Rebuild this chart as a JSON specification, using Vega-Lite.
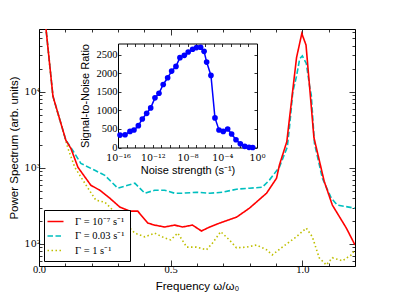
{
  "$schema": "https://vega.github.io/schema/vega-lite/v6.json",
  "width": 316,
  "height": 237,
  "autosize": {"type": "none"},
  "padding": {"left": 39, "top": 29, "right": 40, "bottom": 30},
  "background": "white",
  "config": {
    "view": {"stroke": null},
    "axis": {
      "grid": false,
      "zindex": 1,
      "domainColor": "black",
      "domainWidth": 1,
      "tickColor": "black",
      "tickWidth": 0.8,
      "labelColor": "black",
      "titleColor": "black",
      "labelFont": "Liberation Serif",
      "labelFontSize": 10.5,
      "titleFont": "Liberation Sans",
      "titleFontSize": 11.5,
      "titleFontWeight": "normal",
      "labelOverlap": false,
      "labelFlush": false
    }
  },
  "datasets": {
    "spectrum": [
      {"freq": 0.018, "power": 126000, "gamma": "Γ = 1 s⁻¹"},
      {"freq": 0.027, "power": 64600, "gamma": "Γ = 1 s⁻¹"},
      {"freq": 0.053, "power": 8700, "gamma": "Γ = 1 s⁻¹"},
      {"freq": 0.102, "power": 2250, "gamma": "Γ = 1 s⁻¹"},
      {"freq": 0.11, "power": 1800, "gamma": "Γ = 1 s⁻¹"},
      {"freq": 0.136, "power": 1015, "gamma": "Γ = 1 s⁻¹"},
      {"freq": 0.186, "power": 540, "gamma": "Γ = 1 s⁻¹"},
      {"freq": 0.216, "power": 376, "gamma": "Γ = 1 s⁻¹"},
      {"freq": 0.25, "power": 354, "gamma": "Γ = 1 s⁻¹"},
      {"freq": 0.288, "power": 262, "gamma": "Γ = 1 s⁻¹"},
      {"freq": 0.326, "power": 188, "gamma": "Γ = 1 s⁻¹"},
      {"freq": 0.364, "power": 139, "gamma": "Γ = 1 s⁻¹"},
      {"freq": 0.402, "power": 124, "gamma": "Γ = 1 s⁻¹"},
      {"freq": 0.439, "power": 139, "gamma": "Γ = 1 s⁻¹"},
      {"freq": 0.477, "power": 120, "gamma": "Γ = 1 s⁻¹"},
      {"freq": 0.5, "power": 113, "gamma": "Γ = 1 s⁻¹"},
      {"freq": 0.527, "power": 139, "gamma": "Γ = 1 s⁻¹"},
      {"freq": 0.561, "power": 91, "gamma": "Γ = 1 s⁻¹"},
      {"freq": 0.598, "power": 91, "gamma": "Γ = 1 s⁻¹"},
      {"freq": 0.636, "power": 84, "gamma": "Γ = 1 s⁻¹"},
      {"freq": 0.659, "power": 103, "gamma": "Γ = 1 s⁻¹"},
      {"freq": 0.69, "power": 145, "gamma": "Γ = 1 s⁻¹"},
      {"freq": 0.723, "power": 113, "gamma": "Γ = 1 s⁻¹"},
      {"freq": 0.75, "power": 89, "gamma": "Γ = 1 s⁻¹"},
      {"freq": 0.788, "power": 91, "gamma": "Γ = 1 s⁻¹"},
      {"freq": 0.826, "power": 97, "gamma": "Γ = 1 s⁻¹"},
      {"freq": 0.864, "power": 84, "gamma": "Γ = 1 s⁻¹"},
      {"freq": 0.886, "power": 72, "gamma": "Γ = 1 s⁻¹"},
      {"freq": 0.924, "power": 91, "gamma": "Γ = 1 s⁻¹"},
      {"freq": 0.977, "power": 124, "gamma": "Γ = 1 s⁻¹"},
      {"freq": 1.015, "power": 162, "gamma": "Γ = 1 s⁻¹"},
      {"freq": 1.038, "power": 124, "gamma": "Γ = 1 s⁻¹"},
      {"freq": 1.064, "power": 66, "gamma": "Γ = 1 s⁻¹"},
      {"freq": 1.091, "power": 53, "gamma": "Γ = 1 s⁻¹"},
      {"freq": 1.114, "power": 66, "gamma": "Γ = 1 s⁻¹"},
      {"freq": 1.152, "power": 60, "gamma": "Γ = 1 s⁻¹"},
      {"freq": 1.186, "power": 72, "gamma": "Γ = 1 s⁻¹"},
      {"freq": 1.2, "power": 84, "gamma": "Γ = 1 s⁻¹"},

      {"freq": 0.018, "power": 126000, "gamma": "Γ = 0.03 s⁻¹"},
      {"freq": 0.027, "power": 64600, "gamma": "Γ = 0.03 s⁻¹"},
      {"freq": 0.053, "power": 8700, "gamma": "Γ = 0.03 s⁻¹"},
      {"freq": 0.102, "power": 2300, "gamma": "Γ = 0.03 s⁻¹"},
      {"freq": 0.121, "power": 1850, "gamma": "Γ = 0.03 s⁻¹"},
      {"freq": 0.159, "power": 1145, "gamma": "Γ = 0.03 s⁻¹"},
      {"freq": 0.212, "power": 927, "gamma": "Γ = 0.03 s⁻¹"},
      {"freq": 0.25, "power": 797, "gamma": "Γ = 0.03 s⁻¹"},
      {"freq": 0.299, "power": 540, "gamma": "Γ = 0.03 s⁻¹"},
      {"freq": 0.337, "power": 590, "gamma": "Γ = 0.03 s⁻¹"},
      {"freq": 0.364, "power": 627, "gamma": "Γ = 0.03 s⁻¹"},
      {"freq": 0.402, "power": 464, "gamma": "Γ = 0.03 s⁻¹"},
      {"freq": 0.439, "power": 508, "gamma": "Γ = 0.03 s⁻¹"},
      {"freq": 0.477, "power": 508, "gamma": "Γ = 0.03 s⁻¹"},
      {"freq": 0.515, "power": 464, "gamma": "Γ = 0.03 s⁻¹"},
      {"freq": 0.545, "power": 464, "gamma": "Γ = 0.03 s⁻¹"},
      {"freq": 0.598, "power": 478, "gamma": "Γ = 0.03 s⁻¹"},
      {"freq": 0.648, "power": 464, "gamma": "Γ = 0.03 s⁻¹"},
      {"freq": 0.697, "power": 478, "gamma": "Γ = 0.03 s⁻¹"},
      {"freq": 0.75, "power": 524, "gamma": "Γ = 0.03 s⁻¹"},
      {"freq": 0.799, "power": 540, "gamma": "Γ = 0.03 s⁻¹"},
      {"freq": 0.848, "power": 556, "gamma": "Γ = 0.03 s⁻¹"},
      {"freq": 0.875, "power": 690, "gamma": "Γ = 0.03 s⁻¹"},
      {"freq": 0.913, "power": 1025, "gamma": "Γ = 0.03 s⁻¹"},
      {"freq": 0.943, "power": 1880, "gamma": "Γ = 0.03 s⁻¹"},
      {"freq": 0.951, "power": 3370, "gamma": "Γ = 0.03 s⁻¹"},
      {"freq": 0.964, "power": 10000, "gamma": "Γ = 0.03 s⁻¹"},
      {"freq": 0.978, "power": 16000, "gamma": "Γ = 0.03 s⁻¹"},
      {"freq": 0.99, "power": 27000, "gamma": "Γ = 0.03 s⁻¹"},
      {"freq": 1.0, "power": 29500, "gamma": "Γ = 0.03 s⁻¹"},
      {"freq": 1.015, "power": 23500, "gamma": "Γ = 0.03 s⁻¹"},
      {"freq": 1.028, "power": 11600, "gamma": "Γ = 0.03 s⁻¹"},
      {"freq": 1.034, "power": 9000, "gamma": "Γ = 0.03 s⁻¹"},
      {"freq": 1.046, "power": 2100, "gamma": "Γ = 0.03 s⁻¹"},
      {"freq": 1.053, "power": 1650, "gamma": "Γ = 0.03 s⁻¹"},
      {"freq": 1.076, "power": 729, "gamma": "Γ = 0.03 s⁻¹"},
      {"freq": 1.11, "power": 399, "gamma": "Γ = 0.03 s⁻¹"},
      {"freq": 1.133, "power": 324, "gamma": "Γ = 0.03 s⁻¹"},
      {"freq": 1.2, "power": 295, "gamma": "Γ = 0.03 s⁻¹"},

      {"freq": 0.018, "power": 126000, "gamma": "Γ = 10⁻⁷ s⁻¹"},
      {"freq": 0.027, "power": 64600, "gamma": "Γ = 10⁻⁷ s⁻¹"},
      {"freq": 0.053, "power": 8700, "gamma": "Γ = 10⁻⁷ s⁻¹"},
      {"freq": 0.102, "power": 2300, "gamma": "Γ = 10⁻⁷ s⁻¹"},
      {"freq": 0.121, "power": 1800, "gamma": "Γ = 10⁻⁷ s⁻¹"},
      {"freq": 0.148, "power": 1015, "gamma": "Γ = 10⁻⁷ s⁻¹"},
      {"freq": 0.197, "power": 590, "gamma": "Γ = 10⁻⁷ s⁻¹"},
      {"freq": 0.231, "power": 508, "gamma": "Γ = 10⁻⁷ s⁻¹"},
      {"freq": 0.269, "power": 399, "gamma": "Γ = 10⁻⁷ s⁻¹"},
      {"freq": 0.307, "power": 305, "gamma": "Γ = 10⁻⁷ s⁻¹"},
      {"freq": 0.345, "power": 270, "gamma": "Γ = 10⁻⁷ s⁻¹"},
      {"freq": 0.375, "power": 270, "gamma": "Γ = 10⁻⁷ s⁻¹"},
      {"freq": 0.413, "power": 188, "gamma": "Γ = 10⁻⁷ s⁻¹"},
      {"freq": 0.439, "power": 177, "gamma": "Γ = 10⁻⁷ s⁻¹"},
      {"freq": 0.477, "power": 167, "gamma": "Γ = 10⁻⁷ s⁻¹"},
      {"freq": 0.515, "power": 177, "gamma": "Γ = 10⁻⁷ s⁻¹"},
      {"freq": 0.545, "power": 167, "gamma": "Γ = 10⁻⁷ s⁻¹"},
      {"freq": 0.583, "power": 177, "gamma": "Γ = 10⁻⁷ s⁻¹"},
      {"freq": 0.617, "power": 148, "gamma": "Γ = 10⁻⁷ s⁻¹"},
      {"freq": 0.648, "power": 167, "gamma": "Γ = 10⁻⁷ s⁻¹"},
      {"freq": 0.686, "power": 188, "gamma": "Γ = 10⁻⁷ s⁻¹"},
      {"freq": 0.75, "power": 225, "gamma": "Γ = 10⁻⁷ s⁻¹"},
      {"freq": 0.799, "power": 295, "gamma": "Γ = 10⁻⁷ s⁻¹"},
      {"freq": 0.864, "power": 464, "gamma": "Γ = 10⁻⁷ s⁻¹"},
      {"freq": 0.902, "power": 729, "gamma": "Γ = 10⁻⁷ s⁻¹"},
      {"freq": 0.913, "power": 1090, "gamma": "Γ = 10⁻⁷ s⁻¹"},
      {"freq": 0.941, "power": 2200, "gamma": "Γ = 10⁻⁷ s⁻¹"},
      {"freq": 0.978, "power": 28000, "gamma": "Γ = 10⁻⁷ s⁻¹"},
      {"freq": 0.998, "power": 58000, "gamma": "Γ = 10⁻⁷ s⁻¹"},
      {"freq": 1.014, "power": 41000, "gamma": "Γ = 10⁻⁷ s⁻¹"},
      {"freq": 1.044, "power": 2500, "gamma": "Γ = 10⁻⁷ s⁻¹"},
      {"freq": 1.083, "power": 666, "gamma": "Γ = 10⁻⁷ s⁻¹"},
      {"freq": 1.114, "power": 324, "gamma": "Γ = 10⁻⁷ s⁻¹"},
      {"freq": 1.167, "power": 162, "gamma": "Γ = 10⁻⁷ s⁻¹"},
      {"freq": 1.2, "power": 97, "gamma": "Γ = 10⁻⁷ s⁻¹"}
    ],
    "snr": [
      {"noise": 1.7e-16, "snr": 335},
      {"noise": 6.5e-16, "snr": 344},
      {"noise": 2.4e-15, "snr": 433},
      {"noise": 6.9e-15, "snr": 471},
      {"noise": 2.2e-14, "snr": 587},
      {"noise": 6.3e-14, "snr": 768},
      {"noise": 2.0e-13, "snr": 920},
      {"noise": 5.8e-13, "snr": 1066},
      {"noise": 1.8e-12, "snr": 1337},
      {"noise": 5.2e-12, "snr": 1461},
      {"noise": 1.6e-11, "snr": 1697},
      {"noise": 5.2e-11, "snr": 1878},
      {"noise": 1.5e-10, "snr": 2057},
      {"noise": 4.7e-10, "snr": 2184},
      {"noise": 1.35e-9, "snr": 2419},
      {"noise": 4.3e-9, "snr": 2481},
      {"noise": 1.2e-8, "snr": 2571},
      {"noise": 3.9e-8, "snr": 2644},
      {"noise": 1.1e-7, "snr": 2690},
      {"noise": 3.2e-7, "snr": 2700},
      {"noise": 8.1e-7, "snr": 2590},
      {"noise": 1.6e-6, "snr": 2300},
      {"noise": 5.0e-6, "snr": 1940},
      {"noise": 1.45e-5, "snr": 796},
      {"noise": 4.2e-5, "snr": 471},
      {"noise": 1.3e-4, "snr": 433},
      {"noise": 4.2e-4, "snr": 498},
      {"noise": 1.2e-3, "snr": 363},
      {"noise": 3.8e-3, "snr": 208},
      {"noise": 1.2e-2, "snr": 100},
      {"noise": 3.9e-2, "snr": 32},
      {"noise": 0.12, "snr": 5},
      {"noise": 0.32, "snr": 0}
    ]
  },
  "layer": [
    {
      "data": {"name": "spectrum"},
      "layer": [
        {
          "mark": {"type": "line", "clip": true, "strokeWidth": 1.6},
          "encoding": {
            "x": {
              "field": "freq", "type": "quantitative",
              "scale": {"domain": [0, 1.2], "nice": false, "zero": false},
              "axis": {
                "orient": "bottom",
                "values": [0, 0.1, 0.2, 0.3, 0.4, 0.5, 0.6, 0.7, 0.8, 0.9, 1.0, 1.1, 1.2],
                "labelExpr": "abs(datum.value*2 - round(datum.value*2)) < 0.001 && datum.value < 1.1 ? format(datum.value, '.1f') : ''",
                "tickSize": {"condition": {"test": "abs(datum.value*2 - round(datum.value*2)) < 0.001", "value": -6}, "value": -3},
                "labelPadding": 4,
                "title": "Frequency ω/ω₀",
                "titlePadding": 3
              }
            },
            "y": {
              "field": "power", "type": "quantitative",
              "scale": {"type": "log", "domain": [51.4, 66500], "nice": false},
              "axis": {
                "orient": "left",
                "values": [60, 70, 80, 90, 100, 200, 300, 400, 500, 600, 700, 800, 900, 1000, 2000, 3000, 4000, 5000, 6000, 7000, 8000, 9000, 10000, 20000, 30000, 40000, 50000, 60000],
                "labelExpr": "datum.value == 100 ? '10²' : datum.value == 1000 ? '10³' : datum.value == 10000 ? '10⁴' : ''",
                "tickSize": {"condition": {"test": "datum.value == 100 || datum.value == 1000 || datum.value == 10000", "value": -6}, "value": -3},
                "labelPadding": 5,
                "labelFont": "DejaVu Serif",
                "labelFontSize": 9.5,
                "title": "Power Spectrum (arb. units)",
                "titlePadding": 5
              }
            },
            "color": {
              "field": "gamma", "type": "nominal",
              "scale": {"domain": ["Γ = 10⁻⁷ s⁻¹", "Γ = 0.03 s⁻¹", "Γ = 1 s⁻¹"], "range": ["#ff0000", "#00bfbf", "#bfbf00"]},
              "legend": {
                "orient": "bottom-left", "offset": 5, "title": null,
                "strokeColor": "black", "fillColor": "white", "padding": 5, "cornerRadius": 0,
                "symbolType": "M-1.5,0H1.5", "symbolSize": 114, "symbolStrokeWidth": 1.6,
                "labelFont": "Liberation Serif", "labelFontSize": 10.5, "labelColor": "black",
                "labelOffset": 13, "rowPadding": 2.5
              }
            },
            "strokeDash": {
              "field": "gamma", "type": "nominal",
              "scale": {"domain": ["Γ = 10⁻⁷ s⁻¹", "Γ = 0.03 s⁻¹", "Γ = 1 s⁻¹"], "range": [[1, 0], [5.5, 2.5], [1.5, 2.5]]},
              "legend": {
                "orient": "bottom-left", "offset": 5, "title": null,
                "strokeColor": "black", "fillColor": "white", "padding": 5, "cornerRadius": 0,
                "symbolType": "M-1.5,0H1.5", "symbolSize": 114, "symbolStrokeWidth": 1.6,
                "labelFont": "Liberation Serif", "labelFontSize": 10.5, "labelColor": "black",
                "labelOffset": 13, "rowPadding": 2.5
              }
            }
          }
        },
        {
          "mark": {"type": "point", "opacity": 0},
          "encoding": {
            "x": {
              "field": "freq", "type": "quantitative",
              "axis": {
                "orient": "top",
                "values": [0, 0.1, 0.2, 0.3, 0.4, 0.5, 0.6, 0.7, 0.8, 0.9, 1.0, 1.1, 1.2],
                "labels": false,
                "tickSize": {"condition": {"test": "abs(datum.value*2 - round(datum.value*2)) < 0.001", "value": -6}, "value": -3},
                "title": null
              }
            },
            "y": {
              "field": "power", "type": "quantitative",
              "axis": {
                "orient": "right",
                "values": [60, 70, 80, 90, 100, 200, 300, 400, 500, 600, 700, 800, 900, 1000, 2000, 3000, 4000, 5000, 6000, 7000, 8000, 9000, 10000, 20000, 30000, 40000, 50000, 60000],
                "labels": false,
                "tickSize": {"condition": {"test": "datum.value == 100 || datum.value == 1000 || datum.value == 10000", "value": -6}, "value": -3},
                "title": null
              }
            }
          }
        }
      ]
    },
    {
      "data": {"name": "snr"},
      "layer": [
        {
          "mark": {"type": "line", "color": "#0000ff", "strokeWidth": 1.5, "point": {"filled": true, "size": 32, "color": "#0000ff"}},
          "encoding": {
            "x": {
              "field": "noise", "type": "quantitative",
              "scale": {"type": "log", "domain": [1e-16, 1], "range": [79, 218], "nice": false},
              "axis": {
                "orient": "bottom", "offset": -118.5,
                "values": [1e-16, 1e-15, 1e-14, 1e-13, 1e-12, 1e-11, 1e-10, 1e-9, 1e-8, 1e-7, 1e-6, 1e-5, 1e-4, 1e-3, 1e-2, 1e-1, 1],
                "labelExpr": "abs(log(datum.value)/LN10 + 16) < 0.01 ? '10⁻¹⁶' : abs(log(datum.value)/LN10 + 12) < 0.01 ? '10⁻¹²' : abs(log(datum.value)/LN10 + 8) < 0.01 ? '10⁻⁸' : abs(log(datum.value)/LN10 + 4) < 0.01 ? '10⁻⁴' : abs(log(datum.value)/LN10) < 0.01 ? '10⁰' : ''",
                "tickSize": -3,
                "labelPadding": 8,
                "labelFont": "DejaVu Serif",
                "labelFontSize": 9.5,
                "title": "Noise strength (s⁻¹)",
                "titleFontSize": 11,
                "titlePadding": 2
              }
            },
            "y": {
              "field": "snr", "type": "quantitative",
              "scale": {"domain": [0, 2800], "range": [118.5, 14.5], "nice": false},
              "axis": {
                "orient": "left", "offset": -79,
                "values": [0, 500, 1000, 1500, 2000, 2500],
                "format": "d",
                "tickSize": -3,
                "labelPadding": 4,
                "title": "Signal-to-Noise Ratio",
                "titleFontSize": 11,
                "titlePadding": 6
              }
            }
          }
        },
        {
          "mark": {"type": "point", "opacity": 0},
          "encoding": {
            "x": {
              "field": "noise", "type": "quantitative",
              "axis": {
                "orient": "top", "offset": -14.5,
                "values": [1e-16, 1e-15, 1e-14, 1e-13, 1e-12, 1e-11, 1e-10, 1e-9, 1e-8, 1e-7, 1e-6, 1e-5, 1e-4, 1e-3, 1e-2, 1e-1, 1],
                "labels": false, "tickSize": -3, "title": null
              }
            },
            "y": {
              "field": "snr", "type": "quantitative",
              "axis": {
                "orient": "right", "offset": -98,
                "values": [0, 500, 1000, 1500, 2000, 2500],
                "labels": false, "tickSize": -3, "title": null
              }
            }
          }
        }
      ]
    }
  ],
  "resolve": {"scale": {"x": "independent", "y": "independent"}}
}
